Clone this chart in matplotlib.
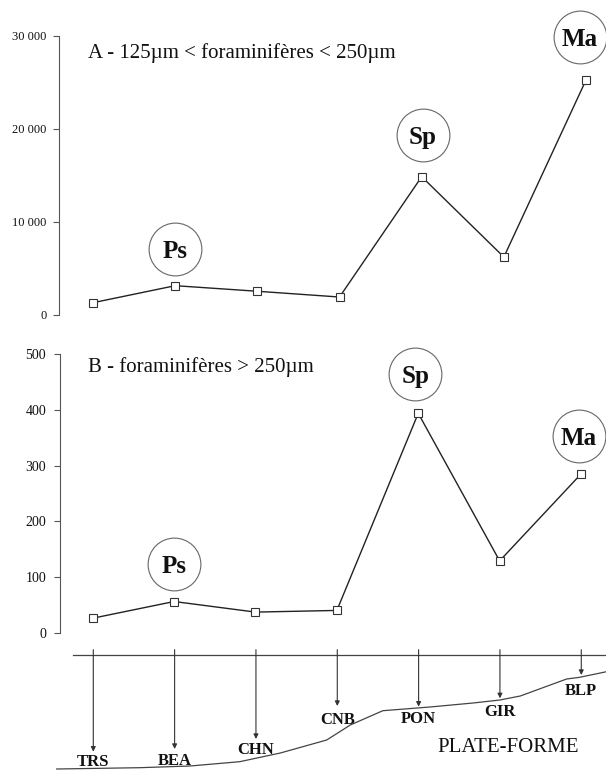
import matplotlib
matplotlib.use('Agg')
import matplotlib.pyplot as plt
from matplotlib.transforms import offset_copy

# ---------------- data ----------------
stations = ['TRS', 'BEA', 'CHN', 'CNB', 'PON', 'GIR', 'BLP']
counts_a = [1290, 3120, 2520, 1900, 14840, 6200, 25240]   # 125-250 µm
counts_b = [26, 56, 37, 40, 394, 129, 285]                # > 250 µm
yticks_a = [0, 10000, 20000, 30000]
yticklabels_a = ['0', '10 000', '20 000', '30 000']
yticks_b = [0, 100, 200, 300, 400, 500]
yticklabels_b = ['0', '100', '200', '300', '400', '500']
badge_idx = [1, 4, 6]
badge_txt = ['Ps', 'Sp', 'Ma']
title_a = 'A - 125µm < foraminifères < 250µm'
title_b = 'B - foraminifères > 250µm'
# schematic seabed profile (station-index units, depth below top of the panel)
station_depth = [111.7, 109, 99, 66, 66.7, 58.3, 35]
seabed_x = [-0.45, 0.57, 1.19, 1.80, 2.30, 2.87, 3.16, 3.56, 4.14, 4.67, 5.0, 5.25, 5.82, 5.98, 6.31]
seabed_y = [129, 127.7, 126, 121.7, 113, 100, 85, 70.7, 67, 63, 60, 56, 39, 37.3, 31.7]
surface_depth = 14.7
shelf_label = 'PLATE-FORME'

# ---------------- style ----------------
W, H = 606, 771
SERIF = ['Liberation Serif', 'DejaVu Serif']
plt.rcParams['font.family'] = SERIF
LINE = '#222222'
label_gap = [10, 12, 11, 14, 12, 14, 16]
fig = plt.figure(figsize=(W / 100, H / 100), dpi=100)


def px_axes(x0, y0, x1, y1):
    return fig.add_axes([x0 / W, 1 - y1 / H, (x1 - x0) / W, (y1 - y0) / H])


def style_axes(ax, ticks, labels, fs, pad):
    for s in ['top', 'right', 'bottom']:
        ax.spines[s].set_visible(False)
    ax.spines['left'].set_color('#555555')
    ax.spines['left'].set_linewidth(0.8)
    ax.set_xticks([])
    ax.set_yticks(ticks)
    ax.set_yticklabels(labels)
    ax.tick_params(axis='y', direction='out', length=4, width=0.8,
                   color='#555555', labelsize=fs, pad=pad, labelcolor='#111111')
    ax.patch.set_alpha(0)


def draw_panel(ax, values, offsets):
    x = list(range(len(values)))
    ax.plot(x, values, color=LINE, lw=1.0, marker='s', ms=5.2,
            mfc='white', mec='#333333', mew=0.8, clip_on=False, zorder=3)
    for (i, t), (dx, dy) in zip(zip(badge_idx, badge_txt), offsets):
        tr = offset_copy(ax.transData, fig=fig, x=dx, y=dy, units='dots')
        ax.plot([i], [values[i]], transform=tr, marker='o', ms=38,
                mfc='white', mec='#666666', mew=0.8, clip_on=False, zorder=4)
        ax.text(i, values[i], t, transform=tr, ha='center', va='center_baseline',
                fontsize=18, fontweight='bold', color='#111111', zorder=5,
                clip_on=False)


# Panel A
axA = px_axes(59, 35.7, 606, 314.7)
axA.set_xlim(-0.414, 6.243)
axA.set_ylim(0, 30000)
style_axes(axA, yticks_a, yticklabels_a, 9, 5)
draw_panel(axA, counts_a, [(0, 37), (1, 42), (-6, 43)])
fig.text(88 / W, 1 - 58 / H, title_a, fontsize=15, ha='left', va='baseline', color='#111111')

# Panel B
axB = px_axes(60, 354.3, 606, 632.7)
axB.set_xlim(-0.402, 6.307)
axB.set_ylim(0, 500)
style_axes(axB, yticks_b, yticklabels_b, 10, 6)
draw_panel(axB, counts_b, [(0, 38), (-3, 39), (-2, 38)])
fig.text(88 / W, 1 - 371.7 / H, title_b, fontsize=15, ha='left', va='baseline', color='#111111')

# Bottom schematic
axC = px_axes(0, 640, 606, 771)
axC.set_xlim(-1.147, 6.304)
axC.set_ylim(131, 0)
axC.axis('off')
axC.plot([-0.25, 6.304], [surface_depth, surface_depth], color='#444444', lw=0.9)
axC.plot(seabed_x, seabed_y, color='#444444', lw=0.9)
for i, (name, d, g) in enumerate(zip(stations, station_depth, label_gap)):
    axC.annotate('', xy=(i, d), xytext=(i, surface_depth - 5),
                 arrowprops=dict(arrowstyle='-|>', color='#333333', lw=0.8,
                                 mutation_scale=7, shrinkA=0, shrinkB=0))
    lbl_tr = offset_copy(axC.transData, fig=fig, x=0, y=-g, units='dots')
    axC.text(i, d, name, transform=lbl_tr, ha='center', va='center',
             fontsize=12, fontweight='bold', color='#111111')
axC.text(5.103, 107.3, shelf_label, ha='center', va='center', fontsize=15, color='#111111')

fig.savefig('out.png', dpi=100)
